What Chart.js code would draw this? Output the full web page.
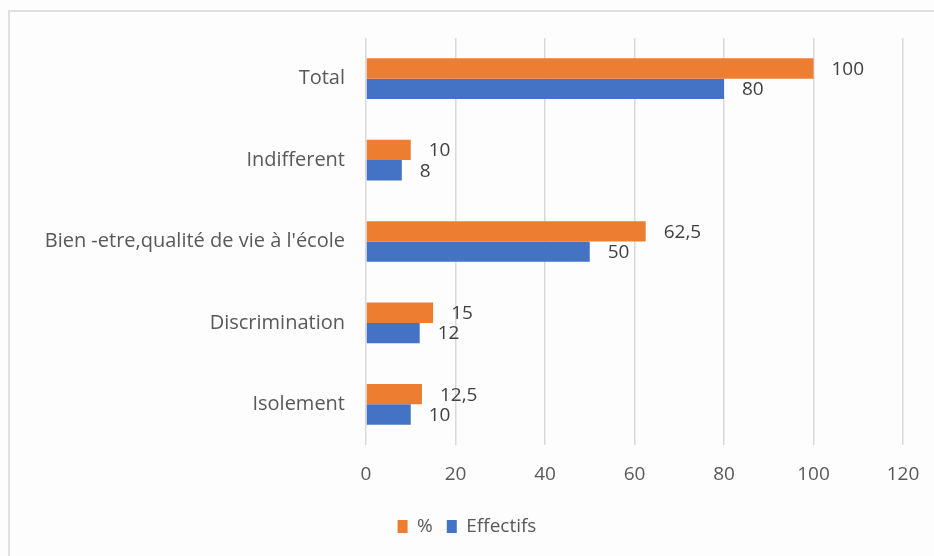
<!DOCTYPE html>
<html>
<head>
<meta charset="utf-8">
<script src="https://cdn.jsdelivr.net/npm/chart.js@4"></script>
<style>
  html, body { margin: 0; padding: 0; background: #fdfdfd; }
  #wrap { position: relative; width: 934px; height: 556px; }
  #frame { position: absolute; left: 8px; top: 10px; right: -2px; bottom: -2px; border-top: 2px solid #e0e0e0; border-left: 2px solid #e0e0e0; }
  canvas { position: absolute; left: 0; top: 0; }
</style>
</head>
<body>
<div id="wrap">
  <div id="frame"></div>
  <canvas id="c" width="934" height="556"></canvas>
</div>
<script>
const categories = ["Total", "Indifferent", "Bien -etre,qualité de vie à l'école", "Discrimination", "Isolement"];
const seriesNames = ["%", "Effectifs"];
const percentValues = [100, 10, 62.5, 15, 12.5];
const effectifsValues = [80, 8, 50, 12, 10];
const xTicks = [0, 20, 40, 60, 80, 100, 120];

const FONT = "'Open Sans', 'Liberation Sans', sans-serif";

const valueLabels = {
  id: 'valueLabels',
  afterDatasetsDraw(chart) {
    const ctx = chart.ctx;
    ctx.save();
    ctx.font = "19px " + FONT;
    ctx.fillStyle = '#404040';
    ctx.textAlign = 'left';
    ctx.textBaseline = 'middle';
    chart.data.datasets.forEach((ds, di) => {
      const meta = chart.getDatasetMeta(di);
      meta.data.forEach((bar, i) => {
        const v = ds.data[i];
        const txt = String(v).replace('.', ',');
        ctx.fillText(txt, bar.x + 18, bar.y + 1);
      });
    });
    ctx.restore();
  }
};

new Chart(document.getElementById('c'), {
  type: 'bar',
  data: {
    labels: categories,
    datasets: [
      { label: seriesNames[0], data: percentValues, backgroundColor: '#ED7D31', borderWidth: 0 },
      { label: seriesNames[1], data: effectifsValues, backgroundColor: '#4472C4', borderWidth: 0 }
    ]
  },
  options: {
    indexAxis: 'y',
    responsive: false,
    animation: false,
    devicePixelRatio: 1,
    layout: { padding: { left: 0, right: 0, top: 38, bottom: 10 } },
    datasets: { bar: { categoryPercentage: 0.5, barPercentage: 1 } },
    scales: {
      x: {
        min: 0, max: 120,
        afterBuildTicks(scale) { scale.ticks = xTicks.map(v => ({ value: v })); },
        afterFit(scale) { scale.height = 58; scale.paddingRight = 31; },
        grid: { color: '#d9d9d9', lineWidth: 1.5, drawTicks: false },
        border: { display: false },
        ticks: { color: '#595959', font: { family: FONT, size: 19 }, padding: 18 }
      },
      y: {
        afterFit(scale) { scale.width = 366; },
        grid: { display: false, drawTicks: false },
        border: { display: false },
        ticks: { color: '#595959', font: { family: FONT, size: 20 }, padding: 21 }
      }
    },
    plugins: {
      legend: {
        position: 'bottom',
        labels: {
          color: '#595959',
          font: { family: FONT, size: 19 },
          boxWidth: 10, boxHeight: 13, padding: 14
        }
      },
      tooltip: { enabled: false }
    }
  },
  plugins: [valueLabels]
});
</script>
</body>
</html>
